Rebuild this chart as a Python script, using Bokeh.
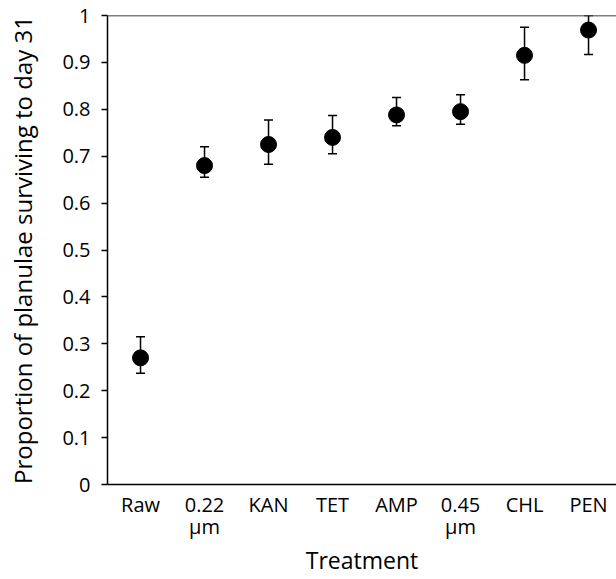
from bokeh.plotting import figure
from bokeh.models import ColumnDataSource, Whisker, TeeHead, FixedTicker, Span, Range1d
from bokeh.embed import file_html
from bokeh.resources import INLINE

# ---- data ----
treatments = ["Raw", "0.22\nµm", "KAN", "TET", "AMP", "0.45\nµm", "CHL", "PEN"]
proportion = [0.270, 0.680, 0.725, 0.740, 0.788, 0.795, 0.915, 0.969]
upper_err = [0.315, 0.720, 0.777, 0.787, 0.825, 0.831, 0.975, 1.000]
lower_err = [0.237, 0.655, 0.683, 0.705, 0.765, 0.768, 0.863, 0.917]
y_ticks = [0, 0.1, 0.2, 0.3, 0.4, 0.5, 0.6, 0.7, 0.8, 0.9, 1]
y_tick_labels = ["0", "0.1", "0.2", "0.3", "0.4", "0.5", "0.6", "0.7", "0.8", "0.9", "1"]

FONT = "Open Sans"
xpos = list(range(len(treatments)))

src = ColumnDataSource(dict(x=xpos, y=proportion, upper=upper_err, lower=lower_err))

p = figure(width=616, height=579, output_backend="svg", toolbar_location=None,
           x_range=Range1d(-0.516, 7.437), y_range=Range1d(0, 1),
           min_border_left=107, min_border_right=0, min_border_top=15, min_border_bottom=93)
p.background_fill_color = "white"
p.border_fill_color = "white"
p.outline_line_color = None
p.grid.grid_line_color = None

w = Whisker(base="x", upper="upper", lower="lower", source=src,
            line_color="black", line_width=1.5,
            upper_head=TeeHead(size=9, line_color="black", line_width=1.5),
            lower_head=TeeHead(size=9, line_color="black", line_width=1.5))
p.add_layout(w)
p.scatter("x", "y", source=src, size=16, color="black")

p.add_layout(Span(location=1, dimension="width", line_color="black", line_width=1.5))

# y axis
ya = p.yaxis[0]
ya.ticker = FixedTicker(ticks=y_ticks)
ya.major_label_overrides = {t: l for t, l in zip(y_ticks, y_tick_labels)}
ya.axis_label = "Proportion of planulae surviving to day 31"
ya.axis_label_text_font = FONT
ya.axis_label_text_font_size = "24px"
ya.axis_label_text_font_style = "normal"
ya.axis_label_standoff = 20
ya.major_label_text_font = FONT
ya.major_label_text_font_size = "20px"
ya.major_label_standoff = 11
ya.major_tick_in = 0
ya.major_tick_out = 6
ya.minor_tick_line_color = None
ya.axis_line_width = 1.5
ya.major_tick_line_width = 1.5
ya.axis_line_color = "black"
ya.major_label_text_color = "black"
ya.axis_label_text_color = "black"

# x axis
xa = p.xaxis[0]
xa.ticker = FixedTicker(ticks=xpos)
xa.major_label_overrides = {i: t for i, t in zip(xpos, treatments)}
xa.major_label_text_font = FONT
xa.major_label_text_font_size = "20px"
xa.major_label_text_line_height = 0.85
xa.major_label_standoff = 6
xa.axis_label = "Treatment"
xa.axis_label_text_font = FONT
xa.axis_label_text_font_size = "23px"
xa.axis_label_text_font_style = "normal"
xa.axis_label_text_line_height = 0.8
xa.axis_label_standoff = 1
xa.major_tick_in = 0
xa.major_tick_out = 0
xa.major_tick_line_color = None
xa.minor_tick_line_color = None
xa.axis_line_width = 1.5
xa.axis_line_color = "black"
xa.major_label_text_color = "black"
xa.axis_label_text_color = "black"

open("out.html", "w").write(file_html(p, INLINE))
